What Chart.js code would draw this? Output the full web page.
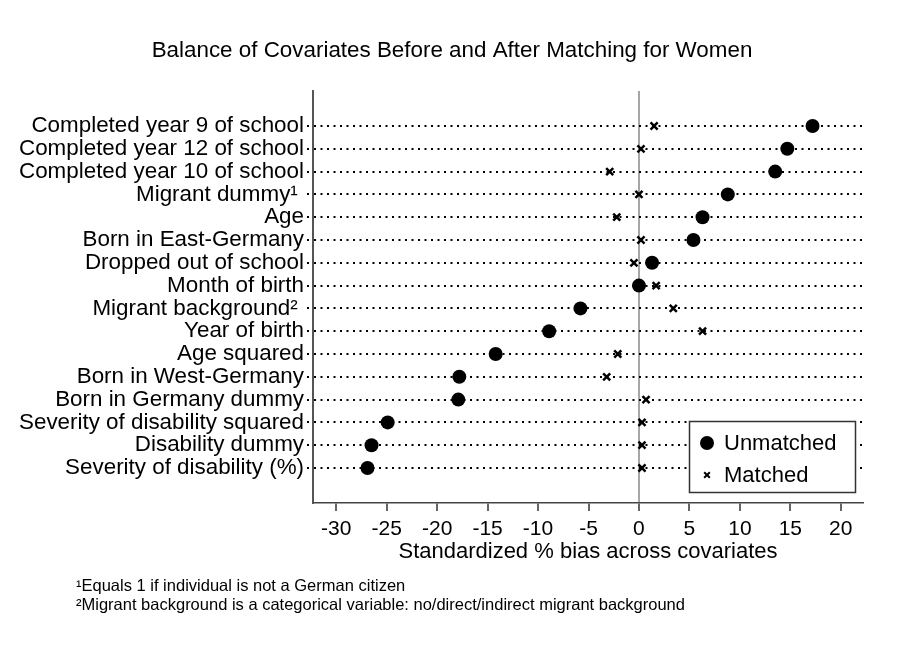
<!DOCTYPE html>
<html><head><meta charset="utf-8">
<script src="https://cdn.jsdelivr.net/npm/chart.js@4"></script>
<style>html,body{margin:0;padding:0;background:#fff}canvas{display:block}</style>
</head><body>
<canvas id="c" width="903" height="661"></canvas>
<script>
const categories = [
  "Completed year 9 of school",
  "Completed year 12 of school",
  "Completed year 10 of school",
  "Migrant dummy\u00B9 ",
  "Age",
  "Born in East-Germany",
  "Dropped out of school",
  "Month of birth",
  "Migrant background\u00B2 ",
  "Year of birth",
  "Age squared",
  "Born in West-Germany",
  "Born in Germany dummy",
  "Severity of disability squared",
  "Disability dummy",
  "Severity of disability (%)"
];
const unmatched = [17.2, 14.7, 13.5, 8.8, 6.3, 5.4, 1.3, 0.0, -5.8, -8.9, -14.2, -17.8, -17.9, -24.9, -26.5, -26.9];
const matched   = [1.5, 0.2, -2.9, 0.0, -2.2, 0.2, -0.5, 1.7, 3.4, 6.3, -2.1, -3.2, 0.7, 0.3, 0.3, 0.3];
const xTicks = [-30, -25, -20, -15, -10, -5, 0, 5, 10, 15, 20];
const seriesNames = ["Unmatched", "Matched"];
const chartTitle = "Balance of Covariates Before and After Matching for Women";
const xAxisTitle = "Standardized % bias across covariates";
const footnotes = [
  "\u00B9Equals 1 if individual is not a German citizen",
  "\u00B2Migrant background is a categorical variable: no/direct/indirect migrant background"
];

const FONT = "'Liberation Sans', Arial, Helvetica, sans-serif";

const textPlugin = {
  id: 'texts',
  afterDatasetsDraw(chart) {
    const ctx = chart.ctx;
    ctx.save();
    // legend box
    const bx = 689.5, by = 421.5, bw = 166, bh = 71;
    ctx.fillStyle = '#fff';
    ctx.fillRect(bx, by, bw, bh);
    ctx.strokeStyle = '#333';
    ctx.lineWidth = 1.5;
    ctx.strokeRect(bx, by, bw, bh);
    const ds0 = chart.data.datasets[0], ds1 = chart.data.datasets[1];
    ctx.fillStyle = '#000';
    ctx.strokeStyle = '#000';
    Chart.helpers.drawPoint(ctx, {pointStyle: ds0.pointStyle, radius: ds0.pointRadius, borderWidth: 0}, 707, 443);
    ctx.lineWidth = 2;
    Chart.helpers.drawPoint(ctx, {pointStyle: ds1.pointStyle, radius: 4, borderWidth: 2}, 707, 475);
    ctx.fillStyle = '#000';
    ctx.font = '22px ' + FONT;
    ctx.textAlign = 'left';
    ctx.textBaseline = 'middle';
    ctx.fillText(ds0.label, 724, 444);
    ctx.fillText(ds1.label, 724, 476);
    ctx.restore();
  },
  afterDraw(chart) {
    const ctx = chart.ctx;
    const ca = chart.chartArea;
    ctx.save();
    ctx.fillStyle = '#000';
    ctx.textBaseline = 'middle';
    ctx.textAlign = 'center';
    ctx.font = '22.4px ' + FONT;
    ctx.fillText(chartTitle, 452, 51);
    ctx.font = '22px ' + FONT;
    ctx.fillText(xAxisTitle, (ca.left + ca.right) / 2, 552);
    ctx.textAlign = 'left';
    ctx.font = '16.5px ' + FONT;
    ctx.fillText(footnotes[0], 76, 586);
    ctx.fillText(footnotes[1], 76, 605);
    ctx.restore();
  }
};

new Chart(document.getElementById('c'), {
  type: 'scatter',
  data: {
    datasets: [
      {
        label: seriesNames[0],
        data: unmatched.map((v, i) => ({x: v, y: i})),
        pointStyle: 'circle',
        pointRadius: 7,
        pointBackgroundColor: '#000',
        pointBorderColor: '#000',
        pointBorderWidth: 0
      },
      {
        label: seriesNames[1],
        data: matched.map((v, i) => ({x: v, y: i})),
        pointStyle: 'crossRot',
        pointRadius: 5,
        pointBackgroundColor: '#000',
        pointBorderColor: '#000',
        pointBorderWidth: 2.5
      }
    ]
  },
  options: {
    responsive: false,
    animation: false,
    events: [],
    layout: {padding: {left: 0, right: 40, top: 91, bottom: 0}},
    plugins: {legend: {display: false}, title: {display: false}, tooltip: {enabled: false}},
    scales: {
      x: {
        type: 'linear',
        min: -32.3,
        max: 22.2,
        afterBuildTicks: s => { s.ticks = xTicks.map(v => ({value: v})); },
        afterFit: s => { s.height = 158; },
        ticks: {autoSkip: false, maxRotation: 0, color: '#000', font: {family: FONT, size: 21}, padding: 6},
        grid: {
          color: c => (c.tick && c.tick.value === 0) ? '#a6a6a6' : 'rgba(0,0,0,0)',
          lineWidth: 2,
          tickColor: '#333',
          tickWidth: 1.5,
          tickLength: 8
        },
        border: {display: true, color: '#444', width: 1.5}
      },
      y: {
        type: 'linear',
        reverse: true,
        min: -1.535,
        max: 16.535,
        afterBuildTicks: s => { s.ticks = categories.map((_, i) => ({value: i})); },
        afterFit: s => { s.width = 313; },
        ticks: {
          autoSkip: false,
          color: '#000',
          font: {family: FONT, size: 22.4},
          padding: 3,
          callback: v => categories[v]
        },
        grid: {
          color: '#000',
          lineWidth: 2,
          tickLength: 6,
          tickColor: '#000',
          tickWidth: 2,
          tickBorderDash: [2, 4.5]
        },
        border: {display: true, color: '#555', width: 2, dash: [2, 4.5]}
      }
    }
  },
  plugins: [textPlugin]
});
</script>
</body></html>
